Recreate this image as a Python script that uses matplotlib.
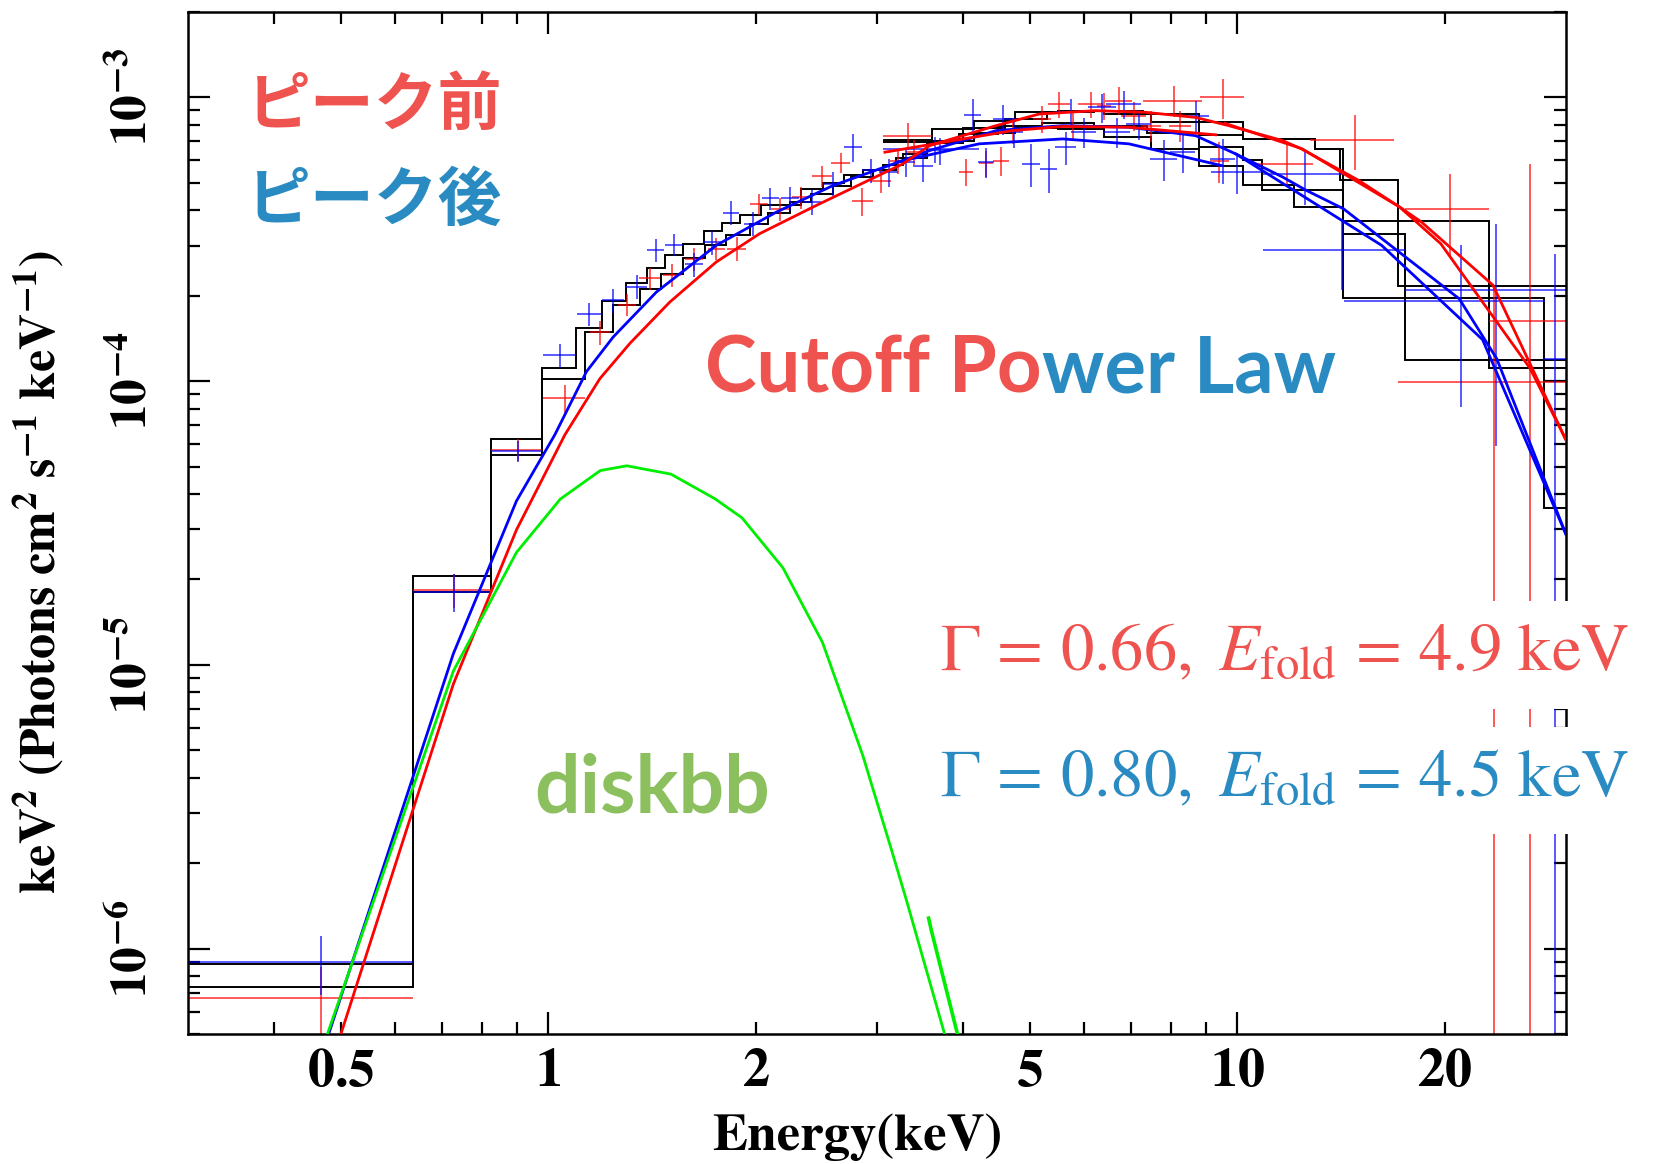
import matplotlib
matplotlib.use("Agg")
import matplotlib.pyplot as plt
import numpy as np

plt.rcParams["mathtext.fontset"] = "stix"
plt.rcParams["font.family"] = ["STIXGeneral", "DejaVu Serif"]

RED_TXT = "#ee534f"
BLUE_TXT = "#2a8bc2"
GREEN_TXT = "#8cbf5e"
JP_FONT = ["Noto Sans CJK JP", "DejaVu Sans"]

# ---- model curves, E [keV] vs keV^2 (photons cm^-2 s^-1 keV^-1)
red_a_e = [0.50, 0.728, 0.899, 1.057, 1.188, 1.314, 1.501, 1.753, 2.027, 2.448, 3.27, 3.575,
           4.465, 5.16, 6.23, 7.36, 8.70, 9.72, 11.62, 12.4, 15.0, 17.2, 18.5, 23.5, 30.0]
red_a_f = [5.0e-7, 8.55e-6, 2.99e-5, 6.47e-5, 1.02e-4, 1.36e-4, 1.90e-4, 2.63e-4, 3.31e-4, 4.16e-4,
           5.83e-4, 6.76e-4, 7.95e-4, 8.74e-4, 8.98e-4, 8.86e-4, 8.50e-4, 7.95e-4, 7.05e-4, 6.58e-4,
           5.10e-4, 4.11e-4, 3.64e-4, 2.18e-4, 6.2e-5]
red_b_e = [3.08, 4.72, 5.58, 6.96, 9.3]
red_b_f = [6.41e-4, 7.64e-4, 7.9e-4, 7.85e-4, 7.38e-4]
red_c_e = [9.6, 12.4, 17.2, 19.74, 26.6, 30.0]
red_c_f = [8.1e-4, 6.6e-4, 4.11e-4, 3.05e-4, 1.11e-4, 6.2e-5]

blue_a_e = [0.48, 0.728, 0.899, 1.022, 1.136, 1.242, 1.435, 1.753, 2.142, 2.589, 3.27, 3.58,
            4.47, 5.58, 6.96, 8.70, 9.95, 11.62, 12.6, 14.26, 21.0, 23.8, 30.0]
blue_a_f = [5.0e-7, 1.094e-5, 3.78e-5, 6.47e-5, 1.08e-4, 1.43e-4, 2.06e-4, 3.01e-4, 3.94e-4, 4.89e-4,
            5.99e-4, 6.5e-4, 7.64e-4, 7.95e-4, 7.85e-4, 7.33e-4, 6.32e-4, 5.25e-4, 4.70e-4, 4.05e-4,
            1.95e-4, 1.20e-4, 2.88e-5]
blue_b_e = [3.2, 4.22, 5.58, 6.96, 9.49]
blue_b_f = [5.91e-4, 6.86e-4, 7.14e-4, 6.86e-4, 5.75e-4]
blue_c_e = [9.95, 16.2, 22.7, 30.0]
blue_c_f = [6.32e-4, 3.01e-4, 1.40e-4, 2.88e-5]

disk_e = [0.478, 0.728, 0.899, 1.041, 1.19, 1.30, 1.507, 1.745, 1.91, 2.19, 2.5, 2.86, 3.15, 3.31, 3.76]
disk_f = [5.0e-7, 9.5e-6, 2.49e-5, 3.84e-5, 4.84e-5, 5.03e-5, 4.70e-5, 3.85e-5, 3.3e-5, 2.2e-5,
          1.2e-5, 4.8e-6, 2.22e-6, 1.48e-6, 5.0e-7]
disk2_e = [3.564, 3.60, 3.925]
disk2_f = [1.28e-6, 1.15e-6, 5.0e-7]

# ---- folded model histograms (black steps)
s1_edges = [0.30, 0.636, 0.825, 0.98, 1.097, 1.195, 1.296, 1.391, 1.476, 1.566, 1.681, 1.789, 1.896,
            2.039, 2.329, 2.503, 2.683, 2.862, 3.058, 3.271, 3.55, 3.95, 4.5, 5.2, 6.2, 7.4, 8.8,
            10.2, 10.85, 14.26, 27.9, 30.0]
s1_levels = [8.8e-7, 2.05e-5, 6.25e-5, 1.115e-4, 1.54e-4, 1.92e-4, 2.22e-4, 2.50e-4, 2.78e-4, 3.05e-4,
             3.37e-4, 3.61e-4, 3.86e-4, 4.16e-4, 4.76e-4, 5.0e-4, 5.31e-4, 5.55e-4, 5.78e-4, 6.3e-4,
             6.9e-4, 7.45e-4, 7.9e-4, 8.1e-4, 7.95e-4, 7.5e-4, 6.7e-4, 6.0e-4, 4.72e-4, 1.96e-4, 3.57e-5]
s2_edges = [0.30, 0.636, 0.825, 0.98, 1.130, 1.242, 1.358, 1.455, 1.569, 1.687, 1.809, 1.959, 2.083,
            2.242, 2.406, 2.589, 2.75, 2.96, 3.2, 3.55, 4.0, 4.6, 5.3, 6.2, 7.3, 8.8, 10.2, 12.96,
            14.26, 23.2, 30.0]
s2_levels = [7.3e-7, 1.81e-5, 5.5e-5, 1.02e-4, 1.49e-4, 1.85e-4, 2.12e-4, 2.39e-4, 2.72e-4, 3.03e-4,
             3.27e-4, 3.59e-4, 3.92e-4, 4.28e-4, 4.57e-4, 4.89e-4, 5.23e-4, 5.57e-4, 6.1e-4, 6.9e-4,
             7.8e-4, 8.4e-4, 8.86e-4, 8.98e-4, 8.74e-4, 8.17e-4, 7.14e-4, 6.58e-4, 3.66e-4, 1.11e-4]
s3_edges = [3.06, 3.61, 4.15, 4.75, 5.5, 6.4, 7.5, 8.8, 10.2, 12.96, 14.1, 17.1, 30.0]
s3_levels = [6.98e-4, 7.74e-4, 8.27e-4, 8.86e-4, 8.98e-4, 8.74e-4, 8.22e-4, 7.4e-4, 7.14e-4, 6.58e-4,
             5.12e-4, 2.17e-4]
s4_edges = [3.06, 3.61, 4.15, 4.75, 5.5, 6.4, 7.5, 8.8, 10.2, 12.1, 14.26, 17.5, 30.0]
s4_levels = [7.05e-4, 7.0e-4, 7.5e-4, 7.8e-4, 7.74e-4, 7.23e-4, 6.6e-4, 5.75e-4, 4.9e-4, 4.12e-4,
             3.3e-4, 1.19e-4]

# ---- data points: centre energy, half width, flux, 1-sigma
red_e = [0.468, 0.7305, 0.9025, 1.057, 1.188, 1.302, 1.404, 1.514, 1.627, 1.753, 1.878, 2.022, 2.17,
         2.33, 2.497, 2.66, 2.855, 3.04, 3.214, 3.40, 3.33, 4.04, 4.32, 4.54, 4.72, 5.21, 5.51, 5.77,
         6.13, 6.41, 6.73, 7.07, 7.50, 8.1, 8.27, 9.42, 9.52, 11.8, 14.82, 20.35, 23.55, 26.6]
red_de = [0.168, 0.0945, 0.0775, 0.075, 0.04, 0.04, 0.05, 0.045, 0.05, 0.05, 0.06, 0.06, 0.065, 0.07,
          0.08, 0.085, 0.1, 0.1, 0.08, 0.09, 0.27, 0.1, 0.1, 0.12, 0.12, 0.15, 0.2, 0.15, 0.25, 0.15,
          0.3, 0.3, 0.25, 0.8, 0.3, 0.3, 0.7, 1.1, 2.05, 2.85, 6.45, 3.4]
red_f = [6.69e-7, 1.84e-5, 5.74e-5, 8.7e-5, 1.485e-4, 1.86e-4, 2.30e-4, 2.36e-4, 2.70e-4, 2.93e-4,
         2.93e-4, 4.22e-4, 4.05e-4, 4.45e-4, 5.28e-4, 5.88e-4, 4.31e-4, 5.09e-4, 5.99e-4, 6.41e-4,
         7.34e-4, 5.48e-4, 5.86e-4, 5.99e-4, 7.64e-4, 8.39e-4, 9.47e-4, 7.95e-4, 9.47e-4, 9.35e-4,
         9.74e-4, 8.63e-4, 7.95e-4, 9.74e-4, 7.95e-4, 5.99e-4, 1.0e-3, 5.83e-4, 7.1e-4, 4.05e-4,
         9.9e-5, 1.63e-4]
red_err = [1.94e-7, 2.5e-6, 5e-6, 1.0e-5, 1.4e-5, 1.6e-5, 2.0e-5, 2.2e-5, 2.5e-5, 2.6e-5, 2.8e-5,
           3.6e-5, 3.8e-5, 4.0e-5, 4.5e-5, 4.8e-5, 5.0e-5, 5.0e-5, 6e-5, 6.5e-5, 8e-5, 6e-5, 6e-5,
           7e-5, 8e-5, 9e-5, 1.0e-4, 9e-5, 1.0e-4, 1.0e-4, 1.1e-4, 1.0e-4, 1.0e-4, 1.2e-4, 1.0e-4,
           1.0e-4, 1.6e-4, 1.0e-4, 1.55e-4, 1.3e-4, 1.14e-4, 4.2e-4]

blue_e = [0.468, 0.7305, 0.9025, 1.040, 1.147, 1.242, 1.343, 1.432, 1.521, 1.627, 1.73, 1.843, 1.982,
          2.10, 2.245, 2.415, 2.589, 2.77, 2.94, 3.12, 3.31, 3.50, 3.64, 3.70, 4.13, 4.32, 4.57, 4.74,
          5.02, 5.33, 5.64, 5.74, 5.99, 6.37, 6.69, 6.85, 7.2, 7.83, 8.33, 8.70, 9.54, 10.0, 12.55,
          14.2, 21.15, 23.75, 28.9]
blue_de = [0.168, 0.0945, 0.0775, 0.058, 0.048, 0.045, 0.05, 0.04, 0.045, 0.05, 0.05, 0.05, 0.06,
           0.06, 0.07, 0.07, 0.08, 0.08, 0.09, 0.1, 0.1, 0.12, 0.58, 0.12, 0.12, 0.12, 0.15, 0.15,
           0.15, 0.15, 0.2, 0.3, 0.25, 0.3, 0.3, 0.4, 0.3, 0.35, 0.35, 0.4, 0.4, 0.85, 1.65, 3.3,
           6.85, 6.25, 1.1]
blue_f = [8.94e-7, 1.81e-5, 5.67e-5, 1.236e-4, 1.72e-4, 1.93e-4, 2.15e-4, 2.91e-4, 3.03e-4, 2.58e-4,
          3.09e-4, 3.92e-4, 3.59e-4, 4.41e-4, 4.41e-4, 4.28e-4, 4.96e-4, 6.67e-4, 5.53e-4, 5.45e-4,
          5.91e-4, 5.75e-4, 6.58e-4, 6.5e-4, 8.67e-4, 5.91e-4, 8.39e-4, 7.53e-4, 5.83e-4, 5.6e-4,
          6.67e-4, 8.86e-4, 7.53e-4, 9.22e-4, 7.53e-4, 9.47e-4, 8.05e-4, 6.06e-4, 6.41e-4, 8.63e-4,
          6.06e-4, 5.45e-4, 5.38e-4, 2.89e-4, 1.91e-4, 2.09e-4, 1.2e-4]
blue_err = [2.1e-7, 2.8e-6, 5e-6, 1.2e-5, 1.6e-5, 1.9e-5, 2.1e-5, 2.7e-5, 2.8e-5, 2.6e-5, 3.0e-5,
            3.8e-5, 3.5e-5, 4.0e-5, 4.2e-5, 4.3e-5, 4.8e-5, 7.6e-5, 5.5e-5, 6e-5, 6.5e-5, 7e-5, 7e-5,
            7e-5, 1.2e-4, 7e-5, 1e-4, 9e-5, 1.0e-4, 1.0e-4, 9e-5, 1e-4, 9e-5, 1.1e-4, 9e-5, 1.1e-4,
            1e-4, 1.0e-4, 1.0e-4, 1.1e-4, 1.1e-4, 9e-5, 1.2e-4, 8e-5, 1.1e-4, 1.5e-4, 1.6e-4]

x_major = [1, 10]
x_major_labels = ["1", "10"]
x_minor = [0.4, 0.5, 0.6, 0.7, 0.8, 0.9, 2, 3, 4, 5, 6, 7, 8, 9, 20]
x_minor_labels = ["", "0.5", "", "", "", "", "2", "", "", "5", "", "", "", "", "20"]
y_major = [1e-6, 1e-5, 1e-4, 1e-3]
y_major_labels = ["-6", "-5", "-4", "-3"]


def draw_points(ax, e, de, f, err, color):
    f = np.asarray(f)
    err = np.asarray(err)
    lower = np.minimum(err, f * 0.999)
    ax.errorbar(e, f, xerr=de, yerr=[lower, err], fmt="none", ecolor=color,
                elinewidth=1.3, capsize=0, alpha=0.7, zorder=2.2)


fig = plt.figure(figsize=(16.54, 11.64), dpi=100)
ax = fig.add_axes([0.1137, 0.1117, 0.8331, 0.8780])
ax.set_xscale("log")
ax.set_yscale("log")

for edges, levels in [(s1_edges, s1_levels), (s2_edges, s2_levels),
                      (s3_edges, s3_levels), (s4_edges, s4_levels)]:
    ax.stairs(levels, edges, baseline=None, color="black", lw=1.4, zorder=2)

draw_points(ax, red_e, red_de, red_f, red_err, "red")
draw_points(ax, blue_e, blue_de, blue_f, blue_err, "blue")

for e, f in [(blue_a_e, blue_a_f), (blue_b_e, blue_b_f), (blue_c_e, blue_c_f)]:
    ax.plot(e, f, color="blue", lw=2.0, zorder=3)
for e, f in [(red_a_e, red_a_f), (red_b_e, red_b_f), (red_c_e, red_c_f)]:
    ax.plot(e, f, color="red", lw=2.0, zorder=3)
ax.plot(disk_e, disk_f, color="#00ee00", lw=2.0, zorder=3.2)
ax.plot(disk2_e, disk2_f, color="#00ee00", lw=2.6, zorder=3.2)

ax.set_xlim(0.3, 30)
ax.set_ylim(5e-7, 2e-3)

# axes styling, PGPLOT-like
for sp in ax.spines.values():
    sp.set_linewidth(1.8)
ax.tick_params(which="both", direction="in", top=True, right=True, width=1.6)
ax.tick_params(which="major", length=16)
ax.tick_params(which="minor", length=8.5)

ax.set_xticks(x_major, labels=[r"$\mathbf{%s}$" % s for s in x_major_labels])
ax.set_xticks(x_minor, labels=[r"$\mathbf{%s}$" % s if s else "" for s in x_minor_labels],
              minor=True)
ax.set_yticks(y_major, labels=[r"$\mathbf{10^{%s}}$" % s for s in y_major_labels])
ax.tick_params(axis="x", which="both", labelsize=39, pad=11)
ax.tick_params(axis="y", which="both", labelsize=37, pad=22, labelrotation=90)
for lbl in ax.get_yticklabels():
    lbl.set_va("center")

ax.set_xlabel("Energy(keV)", fontsize=38, fontweight="bold")
ax.xaxis.set_label_coords(0.4855, -0.078)
ax.set_ylabel(r"$\mathbf{keV^{2}\ (Photons\ cm^{2}\ s^{-1}\ keV^{-1})}$", fontsize=36)
ax.yaxis.set_label_coords(-0.088, 0.452)

# annotations
ax.text(0.043, 0.8894, "ピーク前", transform=ax.transAxes, fontsize=46, color=RED_TXT,
        fontweight="bold", family=JP_FONT, ha="left", va="baseline", zorder=5)
ax.text(0.043, 0.7965, "ピーク後", transform=ax.transAxes, fontsize=46, color=BLUE_TXT,
        fontweight="bold", family=JP_FONT, ha="left", va="baseline", zorder=5)

t1 = ax.text(0.3752, 0.6272, "Cutoff Po", transform=ax.transAxes, fontsize=56, color=RED_TXT,
             family="Lato", fontweight="bold", ha="left", va="baseline", zorder=5)
ax.annotate("wer Law", xy=(1, 0), xycoords=t1, ha="left", va="bottom", fontsize=56,
            color=BLUE_TXT, family="Lato", fontweight="bold", zorder=5)

ax.text(0.2510, 0.2172, "diskbb", transform=ax.transAxes, fontsize=58, color=GREEN_TXT,
        family="Lato", fontweight="bold", ha="left", va="baseline", zorder=5)

box = dict(boxstyle="square,pad=0.35", facecolor="white", edgecolor="none")
ax.text(0.5457, 0.3555, r"$\Gamma\,=\,0.66,\ E_{\mathrm{fold}}\,=\,4.9\ \mathrm{keV}$",
        transform=ax.transAxes, fontsize=48, color=RED_TXT, ha="left", va="baseline",
        bbox=box, zorder=6)
ax.text(0.5457, 0.2329, r"$\Gamma\,=\,0.80,\ E_{\mathrm{fold}}\,=\,4.5\ \mathrm{keV}$",
        transform=ax.transAxes, fontsize=48, color=BLUE_TXT, ha="left", va="baseline",
        bbox=box, zorder=6)

fig.savefig("out.png", dpi=100)
